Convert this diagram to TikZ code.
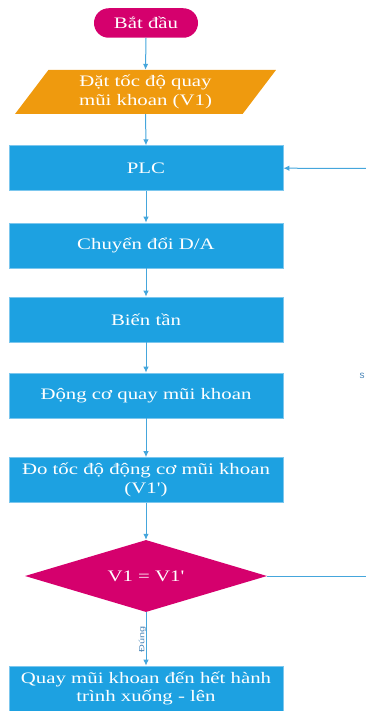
\documentclass[tikz,border=0pt]{standalone}
\usepackage{fontspec}
\setmainfont{Liberation Serif}[FakeStretch=1.3, Ligatures=TeXOff]
\newfontfamily\lblfont{Liberation Sans}
\usetikzlibrary{shapes.geometric,arrows.meta}
\definecolor{cblue}{HTML}{1DA1E1}
\definecolor{cborder}{HTML}{7CC7EE}
\definecolor{cmag}{HTML}{D5006D}
\definecolor{corange}{HTML}{EF9A0E}
\definecolor{carrow}{HTML}{45A6DC}
\definecolor{clabel}{HTML}{4A86B8}
\tikzset{
  stepbox/.style={rectangle, fill=cblue, draw=cborder, line width=0.7pt,
    minimum width=274pt, minimum height=45pt, inner sep=0pt,
    text=white, align=center, font=\fontsize{16}{18.5}\selectfont},
  startbox/.style={rectangle, rounded corners=14.7pt, fill=cmag,
    minimum width=104pt, minimum height=29.5pt, inner sep=0pt,
    text=white, font=\fontsize{16}{18.5}\selectfont},
  inbox/.style={trapezium, trapezium left angle=55.7, trapezium right angle=124.3,
    trapezium stretches=true, fill=corange, minimum width=261pt, minimum height=44pt,
    inner sep=0pt, text=white, align=center, font=\fontsize{16}{18.5}\selectfont},
  decbox/.style={diamond, aspect=3.4, fill=cmag, minimum width=242pt, minimum height=72pt,
    inner sep=0pt, text=white, font=\fontsize{16}{18.5}\selectfont},
  conn/.style={draw=carrow, line width=1pt},
  arr/.style={conn, -{Latex[length=6pt,width=5.5pt]}},
  lbl/.style={text=clabel, inner sep=0pt},
}
\begin{document}
\begin{tikzpicture}[x=1pt,y=-1pt]
\useasboundingbox (0,0) rectangle (366,711);
\node[startbox] (start) at (146,23) {Bắt đầu};
\node[inbox] (inp) at (145.5,92) {Đặt tốc độ quay\\mũi khoan (V1)};
\node[stepbox] (plc) at (146,168.2) {PLC};
\node[stepbox] (da) at (146,245.5) {Chuyển đổi D/A};
\node[stepbox] (bt) at (146,319.5) {Biến tần};
\node[stepbox] (dc) at (146,395.5) {Động cơ quay mũi khoan};
\node[stepbox] (do) at (146,480) {Đo tốc độ động cơ mũi khoan\\(V1')};
\node[decbox] (dec) at (146,576) {V1 = V1'};
\node[stepbox] (last) at (146,688.5) {Quay mũi khoan đến hết hành\\trình xuống - lên};
\coordinate (fbin) at (366,168.5);
\coordinate (fbout) at (366,576);
\node[lbl, font=\lblfont\fontsize{10}{11}\selectfont] (s) at (362,375.5) {s};
\node[lbl, rotate=90, font=\lblfont\fontsize{7.5}{9}\selectfont] (dung) at (142.5,639.5) {\scalebox{1.45}[1]{Đúng}};

\draw[arr] (start.south) -- (inp.north);
\draw[arr] (inp.south) -- (plc.north);
\draw[arr] (plc.south) -- (da.north);
\draw[arr] (da.south) -- (bt.north);
\draw[arr] (bt.south) -- (dc.north);
\draw[arr] (dc.south) -- (do.north);
\draw[arr] (do.south) -- (dec.north);
\draw[arr] (dec.south) -- (last.north);
\draw[arr] (fbin) -- (plc.east);
\draw[conn] (dec.east) -- (fbout);
\end{tikzpicture}
\end{document}
